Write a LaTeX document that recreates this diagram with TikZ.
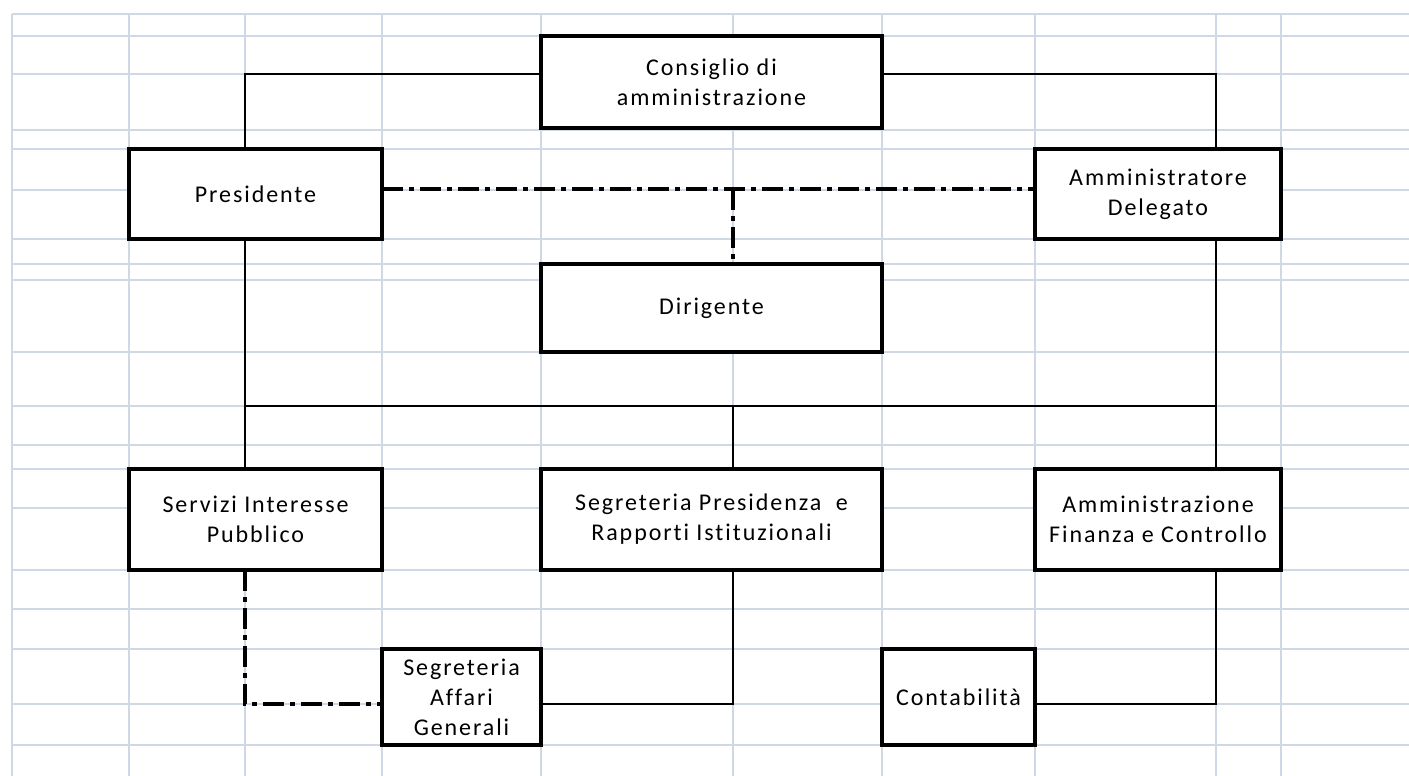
\documentclass[tikz,border=0pt]{standalone}
\usepackage{fontspec}
\setmainfont{Carlito}[LetterSpace=8,Ligatures={NoCommon}]
\begin{document}
\begin{tikzpicture}[x=1pt,y=-1pt,
  gridline/.style={draw=gridc, line width=2pt},
  box/.style={draw=black, line width=3.8pt, fill=white, inner sep=0pt, outer sep=0pt,
    align=center, font=\fontsize{24}{30}\selectfont},
  conn/.style={draw=black, line width=2pt},
  dashdot/.style={draw=black, line width=3.8pt, dash pattern=on 21pt off 6pt on 5pt off 6pt}]
\definecolor{gridc}{HTML}{D0D7E5}
\useasboundingbox (0,0) rectangle (1409,776);
\fill[white] (0,0) rectangle (1409,776);
% grid
\foreach \gx in {12,129,245,382,541,733,882,1035,1216,1281}
  \draw[gridline] (\gx,14) -- (\gx,776);
\foreach \gy in {14,36,74,130,149,190,239,264,280,352,406,445,469,508,570,609,649,704,745}
  \draw[gridline] (12,\gy) -- (1409,\gy);
% helper coordinates
\coordinate (xL) at (245,0);
\coordinate (xM) at (733,0);
\coordinate (xR) at (1216,0);
\coordinate (y74) at (0,74);
\coordinate (y189) at (0,189);
\coordinate (y406) at (0,406);
\coordinate (y704) at (0,704);
% boxes
\node[box, minimum width=341pt, minimum height=92pt] (cda) at (711.5,82) {Consiglio di\\amministrazione};
\node[box, minimum width=253pt, minimum height=90pt] (pres) at (255.5,194) {Presidente};
\node[box, minimum width=246pt, minimum height=90pt] (ad) at (1158,194) {Amministratore\\Delegato};
\node[box, minimum width=341pt, minimum height=88pt] (dir) at (711.5,308) {Dirigente};
\node[box, minimum width=253pt, minimum height=101pt] (sip) at (255.5,519.5) {Servizi Interesse\\Pubblico};
\node[box, minimum width=341pt, minimum height=101pt] (spri) at (711.5,519.5) {Segreteria Presidenza\ \ e\\Rapporti Istituzionali};
\node[box, minimum width=246pt, minimum height=101pt] (afc) at (1158,519.5) {Amministrazione\\Finanza e Controllo};
\node[box, minimum width=159pt, minimum height=96pt] (sag) at (461.5,697) {Segreteria\\Affari\\Generali};
\node[box, minimum width=153pt, minimum height=96pt] (cont) at (958.5,697) {Contabilità};
% solid connectors
\draw[conn] (cda.west |- y74) -| (pres.north -| xL);
\draw[conn] (cda.east |- y74) -| (ad.north -| xR);
\draw[conn] (pres.south -| xL) -- (sip.north -| xL);
\draw[conn] (ad.south -| xR) -- (afc.north -| xR);
\draw[conn] (xL |- y406) -- (xR |- y406);
\draw[conn] (xM |- y406) -- (spri.north -| xM);
\draw[conn] (spri.south -| xM) |- (sag.east |- y704);
\draw[conn] (afc.south -| xR) |- (cont.east |- y704);
% dash-dot connectors
\draw[dashdot] (pres.east |- y189) -- (ad.west |- y189);
\draw[dashdot] (xM |- y189) -- (dir.north -| xM);
\draw[dashdot] (sip.south -| xL) |- (sag.west |- y704);
\end{tikzpicture}
\end{document}
